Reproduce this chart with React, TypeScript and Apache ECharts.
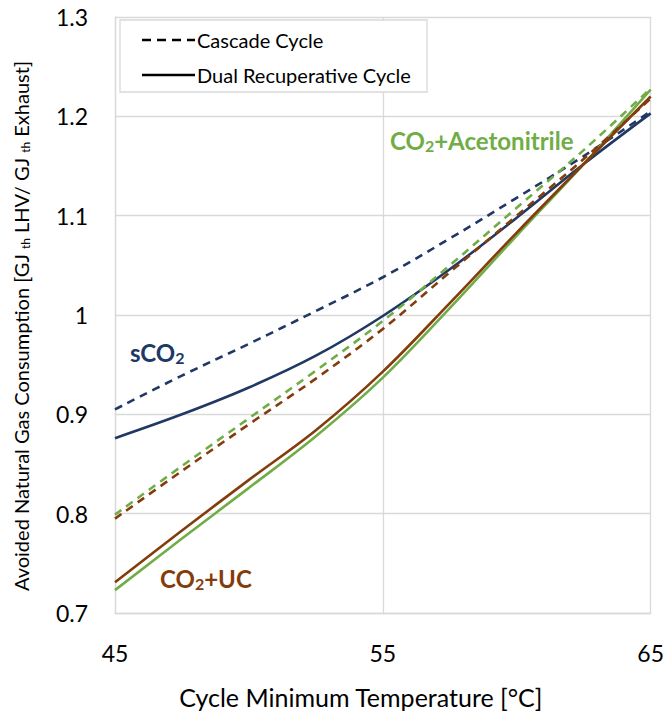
import React, { useEffect, useRef } from "react";
import * as echarts from "echarts";

const temps = [45, 47.5, 50, 52.5, 55, 57.5, 60, 62.5, 65];
const sco2Cascade = [0.905, 0.939, 0.971, 1.004, 1.038, 1.077, 1.118, 1.16, 1.205];
const sco2Dual = [0.876, 0.9, 0.927, 0.959, 0.999, 1.046, 1.098, 1.152, 1.203];
const acnCascade = [0.799, 0.848, 0.896, 0.944, 0.994, 1.05, 1.108, 1.166, 1.228];
const acnDual = [0.723, 0.775, 0.826, 0.878, 0.937, 1.007, 1.08, 1.152, 1.227];
const ucCascade = [0.795, 0.843, 0.89, 0.936, 0.986, 1.043, 1.1, 1.157, 1.218];
const ucDual = [0.731, 0.783, 0.834, 0.884, 0.943, 1.012, 1.083, 1.152, 1.22];

const NAVY = "#203864";
const GREEN = "#70AD47";
const BROWN = "#843C0C";
const FONT = "Lato";

const pairs = (ys: number[]) => temps.map((t, i) => [t, ys[i]]);

export default function App() {
  const ref = useRef<HTMLDivElement>(null);
  useEffect(() => {
    document.body.style.margin = "0";
    if (!ref.current) return;
    const chart = echarts.init(ref.current, null, { renderer: "svg" });
    const mk = (name: string, ys: number[], color: string, dashed: boolean, z: number) => ({
      name,
      type: "line",
      data: pairs(ys),
      smooth: 0.35,
      showSymbol: false,
      symbol: "none",
      z,
      lineStyle: { color, width: 2.6, type: dashed ? [8, 6] : "solid" },
    });
    const label = (x: number, y: number, text: string, color: string) => ({
      type: "text",
      x,
      y,
      z: 11,
      style: {
        text,
        fontSize: 24,
        fontWeight: "bold",
        fontFamily: FONT,
        fill: color,
        verticalAlign: "middle",
        rich: { s: { fontSize: 16, fontWeight: "bold", fontFamily: FONT, fill: color, padding: [11, 0, 0, 0] } },
      },
    });
    chart.setOption({
      animation: false,
      backgroundColor: "#ffffff",
      textStyle: { fontFamily: FONT },
      grid: { left: 115, right: 15, top: 17, bottom: 97 },
      xAxis: {
        type: "value",
        min: 45,
        max: 65,
        interval: 10,
        name: "Cycle Minimum Temperature [°C]",
        nameLocation: "middle",
        nameGap: 71,
        nameTextStyle: { fontSize: 25, color: "#000", fontFamily: FONT, padding: [0, 44, 0, 0] },
        axisLine: { show: true, lineStyle: { color: "#d9d9d9", width: 1.3 } },
        axisTick: { show: false },
        axisLabel: { fontSize: 23, color: "#000", margin: 28, fontFamily: FONT },
        splitLine: { show: true, lineStyle: { color: "#d9d9d9", width: 1.3 } },
      },
      yAxis: {
        type: "value",
        min: 0.7,
        max: 1.3,
        interval: 0.1,
        name: "Avoided Natural Gas Consumption [GJ {sub|th} LHV/ GJ {sub|th} Exhaust]",
        nameLocation: "middle",
        nameGap: 84,
        nameTextStyle: {
          fontSize: 20,
          color: "#000",
          fontFamily: FONT,
          padding: [0, 22, 0, 0],
          rich: {
            sub: { fontSize: 12, color: "#000", fontFamily: FONT, padding: [9, 0, 0, 0] },
          },
        },
        axisLine: { show: true, lineStyle: { color: "#d9d9d9", width: 1.3 } },
        axisTick: { show: false },
        axisLabel: { fontSize: 23, color: "#000", margin: 27, fontFamily: FONT },
        splitLine: { show: true, lineStyle: { color: "#d9d9d9", width: 1.3 } },
      },
      series: [
        mk("sCO2 Cascade", sco2Cascade, NAVY, true, 3),
        mk("sCO2 Dual", sco2Dual, NAVY, false, 3),
        mk("Acetonitrile Cascade", acnCascade, GREEN, true, 4),
        mk("Acetonitrile Dual", acnDual, GREEN, false, 4),
        mk("UC Cascade", ucCascade, BROWN, true, 5),
        mk("UC Dual", ucDual, BROWN, false, 5),
      ],
      graphic: [
        {
          type: "rect",
          shape: { x: 120, y: 20, width: 307, height: 72 },
          style: { fill: "#fff", stroke: "#d9d9d9", lineWidth: 1.3 },
          z: 10,
        },
        {
          type: "line",
          shape: { x1: 142, y1: 40, x2: 195, y2: 40 },
          style: { stroke: "#000", lineWidth: 2.6, lineDash: [9, 6] },
          z: 11,
        },
        {
          type: "line",
          shape: { x1: 142, y1: 75, x2: 195, y2: 75 },
          style: { stroke: "#000", lineWidth: 2.6 },
          z: 11,
        },
        {
          type: "text",
          x: 197,
          y: 40,
          style: { text: "Cascade Cycle", fontSize: 20, fontFamily: FONT, fill: "#000", verticalAlign: "middle" },
          z: 11,
        },
        {
          type: "text",
          x: 197,
          y: 75,
          style: { text: "Dual Recuperative Cycle", fontSize: 20, fontFamily: FONT, fill: "#000", verticalAlign: "middle" },
          z: 11,
        },
        label(130, 352, "sCO{s|2}", NAVY),
        label(390, 140, "CO{s|2}+Acetonitrile", GREEN),
        label(160, 578, "CO{s|2}+UC", BROWN),
      ],
    });
    return () => chart.dispose();
  }, []);
  return <div ref={ref} style={{ width: 667, height: 714 }} />;
}
